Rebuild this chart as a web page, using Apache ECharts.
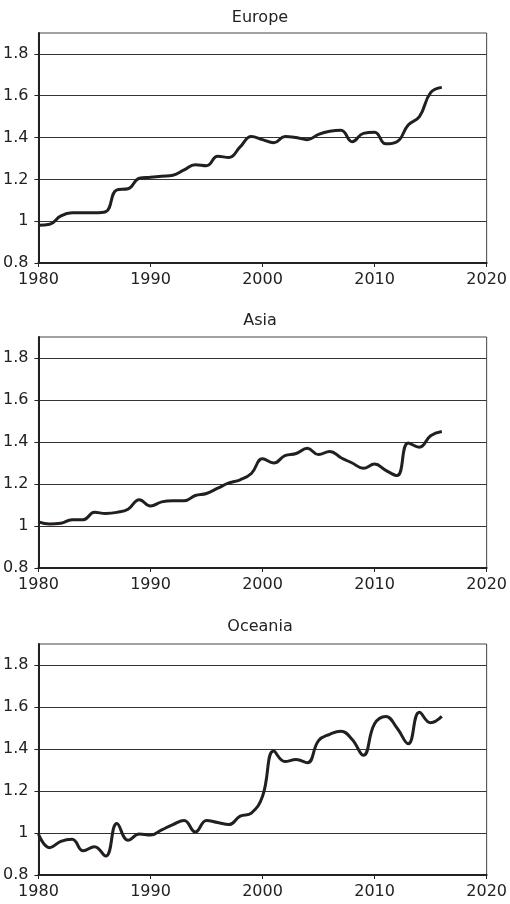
<!DOCTYPE html>
<html>
<head>
<meta charset="utf-8">
<script src="https://cdn.jsdelivr.net/npm/echarts@6/dist/echarts.min.js"></script>
<style>html,body{margin:0;padding:0;background:#fff}#c{width:510px;height:904px}</style>
</head>
<body>
<div id="c"></div>
<script>
const years = [1980,1981,1982,1983,1984,1985,1986,1987,1988,1989,1990,1991,1992,1993,1994,1995,1996,1997,1998,1999,2000,2001,2002,2003,2004,2005,2006,2007,2008,2009,2010,2011,2012,2013,2014,2015,2016];
const europe = [0.98,0.985,1.025,1.04,1.04,1.04,1.045,1.15,1.155,1.205,1.21,1.215,1.22,1.245,1.27,1.265,1.31,1.305,1.355,1.405,1.39,1.375,1.405,1.40,1.39,1.415,1.43,1.435,1.38,1.42,1.425,1.37,1.38,1.46,1.50,1.615,1.64];
const asia = [1.02,1.01,1.013,1.03,1.03,1.065,1.06,1.065,1.08,1.125,1.095,1.115,1.12,1.12,1.145,1.155,1.18,1.205,1.22,1.25,1.32,1.30,1.335,1.345,1.37,1.34,1.355,1.325,1.30,1.275,1.295,1.265,1.24,1.395,1.375,1.43,1.45];
const oceania = [0.995,0.93,0.96,0.97,0.915,0.935,0.89,1.045,0.965,0.995,0.99,1.015,1.04,1.06,1.005,1.06,1.05,1.04,1.08,1.095,1.175,1.39,1.34,1.35,1.335,1.44,1.47,1.485,1.445,1.37,1.52,1.555,1.50,1.425,1.575,1.525,1.555];
const titles = ['Europe','Asia','Oceania'];
const seriesData = [europe, asia, oceania];
const xTicks = [1980,1990,2000,2010,2020];
const yTicks = [0.8,1,1.2,1.4,1.6,1.8];
const yMax = 1.9;

const font = 'DejaVu Sans';
const grids = [
  {left:38, right:22, top:33, height:230},
  {left:38, right:22, top:337, height:231},
  {left:38, right:22, top:644, height:231}
];
const titleTops = [5, 308, 614];

const chart = echarts.init(document.getElementById('c'), null, {renderer:'canvas'});
const option = {
  animation:false,
  backgroundColor:'#fff',
  title: titles.map((t,i)=>({text:t, left:255, top:titleTops[i], textAlign:'center',
    textStyle:{fontFamily:font, fontSize:16, fontWeight:'normal', color:'#222'}})),
  grid: grids.map(g=>Object.assign({show:true, borderColor:'#444', borderWidth:1, backgroundColor:'#fff'}, g)),
  xAxis: grids.map((g,i)=>({type:'value', gridIndex:i, min:xTicks[0], max:xTicks[xTicks.length-1], interval:10,
    axisLine:{show:true, onZero:false, lineStyle:{color:'#222', width:2}},
    axisTick:{show:true, length:4, lineStyle:{color:'#222'}},
    splitLine:{show:false},
    axisLabel:{fontFamily:font, fontSize:16, color:'#222', margin:9, formatter:v=>String(v)}})),
  yAxis: grids.map((g,i)=>({type:'value', gridIndex:i, min:yTicks[0], max:yMax, interval:0.2,
    axisLine:{show:true, onZero:false, lineStyle:{color:'#222', width:2}},
    axisTick:{show:true, length:4, customValues:yTicks, lineStyle:{color:'#222'}},
    splitLine:{show:true, lineStyle:{color:'#333', width:1}},
    axisLabel:{fontFamily:font, fontSize:16, color:'#222', margin:10, customValues:yTicks,
      formatter:v=>String(Math.round(v*10)/10)}})),
  series: seriesData.map((d,i)=>({type:'line', xAxisIndex:i, yAxisIndex:i, smooth:0.45, showSymbol:false,
    lineStyle:{color:'#231f20', width:3}, data: years.map((y,k)=>[y,d[k]])}))
};
chart.setOption(option);
</script>
</body>
</html>
